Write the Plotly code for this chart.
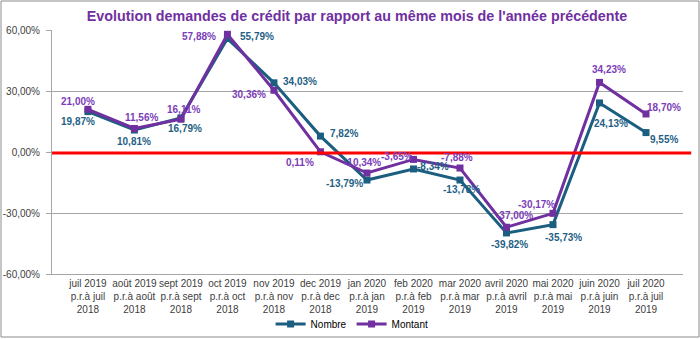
import plotly.graph_objects as go

categories = [
    "juil 2019<br>p.r.à juil<br>2018", "août 2019<br>p.r.à août<br>2018",
    "sept 2019<br>p.r.à sept<br>2018", "oct 2019<br>p.r.à oct<br>2018",
    "nov 2019<br>p.r.à nov<br>2018", "dec 2019<br>p.r.à dec<br>2018",
    "jan 2020<br>p.r.à jan<br>2019", "feb 2020<br>p.r.à feb<br>2019",
    "mar 2020<br>p.r.à mar<br>2019", "avril 2020<br>p.r.à avril<br>2019",
    "mai 2020<br>p.r.à mai<br>2019", "juin 2020<br>p.r.à juin<br>2019",
    "juil 2020<br>p.r.à juil<br>2019",
]
nombre = [19.87, 10.81, 16.79, 55.79, 34.03, 7.82, -13.79, -8.34, -13.78, -39.82, -35.73, 24.13, 9.55]
montant = [21.00, 11.56, 16.11, 57.88, 30.36, 0.11, -10.34, -3.65, -7.88, -37.00, -30.17, 34.23, 18.70]
y_ticks = [-60, -30, 0, 30, 60]

# label offsets (pixels)
nombre_shift = [(-10, -10), (0, -11), (4, -11), (30, 2), (26, 1), (24, 3), (-22, -3),
                (20, 2), (2, -9), (3, -12), (11, -13), (12, -21), (18, -7)]
montant_shift = [(-10, 8), (7, 11), (3, 10), (-28, -2), (-25, -4), (-20, -11), (-4, 11),
                 (-16, 3), (-3, 11), (8, 12), (-16, 9), (10, 13), (18, 6)]

C_NOMBRE = "#1B5E80"
C_MONTANT = "#7030A0"
L_NOMBRE = "#1F5F85"
L_MONTANT = "#7B3DB8"
FONT = "Liberation Sans, Arial, sans-serif"

fig = go.Figure()
fig.add_trace(go.Scatter(
    x=categories, y=nombre, name="Nombre", mode="lines+markers",
    line=dict(color=C_NOMBRE, width=3), marker=dict(symbol="square", size=7, color=C_NOMBRE),
    cliponaxis=False,
))
fig.add_trace(go.Scatter(
    x=categories, y=montant, name="Montant", mode="lines+markers",
    line=dict(color=C_MONTANT, width=3), marker=dict(symbol="square", size=7, color=C_MONTANT),
    cliponaxis=False,
))

def fmt(v):
    return ("%.2f%%" % v).replace(".", ",")

annotations = []
for cat, v, (dx, dy) in zip(categories, nombre, nombre_shift):
    annotations.append(dict(x=cat, y=v, text="<b>" + fmt(v) + "</b>", showarrow=False,
                            xshift=dx, yshift=dy,
                            font=dict(family=FONT, size=10, color=L_NOMBRE)))
for cat, v, (dx, dy) in zip(categories, montant, montant_shift):
    annotations.append(dict(x=cat, y=v, text="<b>" + fmt(v) + "</b>", showarrow=False,
                            xshift=dx, yshift=dy,
                            font=dict(family=FONT, size=10, color=L_MONTANT)))

shapes = [
    dict(type="line", xref="paper", yref="y", x0=0, x1=1.013, y0=-0.5, y1=-0.5,
         line=dict(color="#FF0000", width=3), layer="above"),
    dict(type="rect", xref="paper", yref="paper", x0=-0.0808, x1=1.0254, y0=-0.2582, y1=1.1189,
         line=dict(color="#8C8C8C", width=1)),
]

fig.update_layout(
    width=700, height=339,
    margin=dict(l=52, r=17, t=30, b=65, autoexpand=False),
    paper_bgcolor="white", plot_bgcolor="white",
    separators=", ",
    title=dict(text="<b>Evolution demandes de crédit par rapport au même mois de l'année précédente</b>",
               x=0.51, xanchor="center", y=0.953, yanchor="middle", automargin=False,
               font=dict(family=FONT, size=14.3, color="#7030A0")),
    showlegend=True,
    legend=dict(orientation="h", x=0.503, xanchor="center", xref="container",
                y=0.044, yanchor="middle", yref="container",
                font=dict(family=FONT, size=10, color="#000000"), itemwidth=30,
                tracegroupgap=0, bgcolor="rgba(0,0,0,0)"),
    annotations=annotations,
    shapes=shapes,
)
fig.update_xaxes(
    type="category", showgrid=False, showline=True, linecolor="#A6A6A6", linewidth=1,
    ticks="", tickfont=dict(family=FONT, size=10, color="#404040"), tickangle=0,
    mirror=False, zeroline=False, automargin=False,
)
fig.update_yaxes(
    range=[-60, 60], tickvals=y_ticks, ticktext=[fmt(t) for t in y_ticks],
    showgrid=True, gridcolor="#A6A6A6", gridwidth=1, zeroline=False,
    showline=True, linecolor="#A6A6A6", linewidth=1, ticks="outside", ticklen=5,
    tickcolor="#A6A6A6", tickfont=dict(family=FONT, size=10, color="#404040"),
    ticklabelstandoff=4, automargin=False,
)

fig.write_html("out.html")
